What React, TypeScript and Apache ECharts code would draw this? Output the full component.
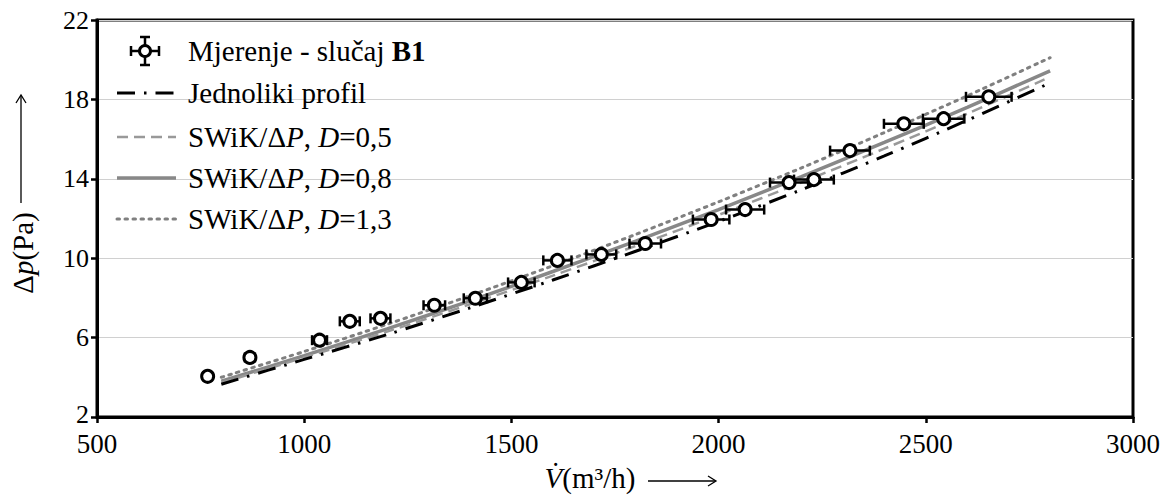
import React, { useEffect, useRef } from "react";
import * as echarts from "echarts";

// Measurements (case B1): flow rate, pressure drop, horizontal error (+/-)
const measFlow = [767, 869, 1037, 1110, 1184, 1314, 1413, 1524, 1611, 1717, 1823, 1982, 2064, 2170, 2230, 2317, 2447, 2543, 2652];
const measDp = [4.05, 5.0, 5.87, 6.82, 6.97, 7.63, 7.98, 8.78, 9.89, 10.19, 10.74, 11.95, 12.45, 13.81, 13.96, 15.42, 16.77, 17.03, 18.13];
const measErr = [10, 12, 18, 24, 24, 26, 28, 32, 34, 36, 38, 44, 46, 46, 48, 48, 48, 50, 55];

// Model curves
const modelFlow = [800, 1000, 1200, 1400, 1600, 1800, 2000, 2200, 2400, 2600, 2800];
const uniformDp = [3.65, 4.9, 6.15, 7.5, 8.9, 10.35, 11.85, 13.45, 15.15, 16.95, 18.83];
const swik05Dp = [3.72, 5.0, 6.3, 7.68, 9.12, 10.62, 12.18, 13.82, 15.52, 17.28, 19.13];
const swik08Dp = [3.8, 5.09, 6.44, 7.85, 9.33, 10.86, 12.45, 14.11, 15.83, 17.6, 19.44];
const swik13Dp = [4.0, 5.3, 6.67, 8.11, 9.62, 11.2, 12.84, 14.55, 16.33, 18.18, 20.1];

// Axis ticks
const xTicks = [500, 1000, 1500, 2000, 2500, 3000];
const yTicks = [2, 6, 10, 14, 18, 22];

const FONT = "'Liberation Serif', 'Times New Roman', serif";
const FS = 29;

export default function App() {
  const ref = useRef<HTMLDivElement>(null);

  useEffect(() => {
    document.body.style.margin = "0";
    const chart = echarts.init(ref.current!, null, { renderer: "svg" });

    const lineSeries = (name: string, ys: number[], color: string, width: number, type: any, cap: any = "butt") => ({
      name,
      type: "line",
      data: modelFlow.map((x, i) => [x, ys[i]]),
      showSymbol: false,
      symbol: "none",
      smooth: 0.3,
      lineStyle: { color, width, type, cap },
      z: 2,
    });

    const legendRows = [51, 93, 137, 178, 219];
    const lx1 = 117;
    const lx2 = 176;
    const tx = 188;
    const richBase = {
      n: { fontFamily: FONT, fontSize: FS, fill: "#000", color: "#000" },
      i: { fontFamily: FONT, fontSize: FS, fontStyle: "italic", fill: "#000", color: "#000" },
      b: { fontFamily: FONT, fontSize: FS, fontWeight: "bold", fill: "#000", color: "#000" },
    };
    const legText = (y: number, text: string) => ({
      type: "text",
      x: tx,
      y,
      z: 100,
      style: { text, fontFamily: FONT, fontSize: FS, fill: "#000", verticalAlign: "middle", rich: richBase },
    });
    const legLine = (y: number, stroke: string, lineWidth: number, lineDash: any, lineCap = "butt") => ({
      type: "line",
      z: 100,
      shape: { x1: lx1, y1: y, x2: lx2, y2: y },
      style: { stroke, lineWidth, lineDash, lineCap },
    });
    const cx = 145;
    const cy = legendRows[0];

    const graphic: any[] = [
      // legend item 1: marker with error bars
      { type: "line", z: 100, shape: { x1: cx - 14, y1: cy, x2: cx + 14, y2: cy }, style: { stroke: "#000", lineWidth: 2.5 } },
      { type: "line", z: 100, shape: { x1: cx - 14, y1: cy - 5, x2: cx - 14, y2: cy + 5 }, style: { stroke: "#000", lineWidth: 2.5 } },
      { type: "line", z: 100, shape: { x1: cx + 14, y1: cy - 5, x2: cx + 14, y2: cy + 5 }, style: { stroke: "#000", lineWidth: 2.5 } },
      { type: "line", z: 100, shape: { x1: cx, y1: cy - 14, x2: cx, y2: cy + 14 }, style: { stroke: "#000", lineWidth: 2.5 } },
      { type: "line", z: 100, shape: { x1: cx - 5, y1: cy - 14, x2: cx + 5, y2: cy - 14 }, style: { stroke: "#000", lineWidth: 2.5 } },
      { type: "line", z: 100, shape: { x1: cx - 5, y1: cy + 14, x2: cx + 5, y2: cy + 14 }, style: { stroke: "#000", lineWidth: 2.5 } },
      { type: "circle", z: 101, shape: { cx, cy, r: 5.5 }, style: { fill: "#fff", stroke: "#000", lineWidth: 3 } },
      legText(legendRows[0], "{n|Mjerenje - slučaj }{b|B1}"),
      legLine(legendRows[1], "#000", 3, [18, 9, 2.5, 9]),
      legText(legendRows[1], "{n|Jednoliki profil}"),
      legLine(legendRows[2], "#999", 2.5, [11, 6]),
      legText(legendRows[2], "{n|SWiK/Δ}{i|P}{n|, }{i|D}{n|=0,5}"),
      legLine(legendRows[3], "#888", 3.5, null),
      legText(legendRows[3], "{n|SWiK/Δ}{i|P}{n|, }{i|D}{n|=0,8}"),
      legLine(legendRows[4], "#808080", 3, [2.5, 5.5], "round"),
      legText(legendRows[4], "{n|SWiK/Δ}{i|P}{n|, }{i|D}{n|=1,3}"),
      // x axis arrow
      { type: "line", z: 100, shape: { x1: 648, y1: 481, x2: 715, y2: 481 }, style: { stroke: "#000", lineWidth: 1.3 } },
      { type: "polyline", z: 100, shape: { points: [[708, 476], [716, 481], [708, 486]] }, style: { stroke: "#000", lineWidth: 1.3, fill: null } },
      // y axis arrow
      { type: "line", z: 100, shape: { x1: 21, y1: 203, x2: 21, y2: 96 }, style: { stroke: "#000", lineWidth: 1.3 } },
      { type: "polyline", z: 100, shape: { points: [[16, 103], [21, 95], [26, 103]] }, style: { stroke: "#000", lineWidth: 1.3, fill: null } },
    ];

    const option: any = {
      animation: false,
      backgroundColor: "#fff",
      textStyle: { fontFamily: FONT },
      grid: {
        left: 97,
        right: 31,
        top: 20,
        bottom: 79,
        show: true,
        borderColor: "#000",
        borderWidth: 3,
        backgroundColor: "transparent",
      },
      xAxis: {
        type: "value",
        min: xTicks[0],
        max: xTicks[xTicks.length - 1],
        interval: 500,
        name: "{i|V\u0307}{n|(m³/h)}",
        nameLocation: "middle",
        nameGap: 46,
        nameTextStyle: {
          padding: [0, 50, 0, 0],
          rich: {
            n: { fontFamily: FONT, fontSize: FS, color: "#000" },
            i: { fontFamily: FONT, fontSize: FS, fontStyle: "italic", color: "#000" },
          },
        },
        axisLine: { show: true, onZero: false, lineStyle: { color: "#000", width: 3 } },
        axisTick: { show: true, length: 6, lineStyle: { color: "#000", width: 2.5 } },
        axisLabel: { fontFamily: FONT, fontSize: 27, lineHeight: 20, color: "#000", margin: 17, formatter: (v: number) => String(v) },
        splitLine: { show: false },
      },
      yAxis: {
        type: "value",
        min: yTicks[0],
        max: yTicks[yTicks.length - 1],
        interval: 4,
        name: "{n|Δ}{i|p}{n|(Pa)}",
        nameLocation: "middle",
        nameGap: 60,
        nameRotate: 90,
        nameTextStyle: {
          padding: [0, 69, 0, 0],
          rich: {
            n: { fontFamily: FONT, fontSize: FS, color: "#000" },
            i: { fontFamily: FONT, fontSize: FS, fontStyle: "italic", color: "#000" },
          },
        },
        axisLine: { show: true, onZero: false, lineStyle: { color: "#000", width: 3 } },
        axisTick: { show: true, length: 6, lineStyle: { color: "#000", width: 2.5 } },
        axisLabel: {
          fontFamily: FONT,
          fontSize: 26,
          lineHeight: 18,
          color: "#000",
          margin: 8,
          formatter: (v: number) => (v === yTicks[0] ? `{low|${v}}` : String(v)),
          rich: { low: { fontFamily: FONT, fontSize: 26, lineHeight: 18, color: "#000", padding: [0, 0, 6, 0] } },
        },
        splitLine: { show: true, lineStyle: { color: "#d0d0d0", width: 1.2 } },
      },
      graphic,
      series: [
        lineSeries("SWiK/ΔP, D=1,3", swik13Dp, "#808080", 3, [2.5, 5.5], "round"),
        lineSeries("SWiK/ΔP, D=0,8", swik08Dp, "#888", 3.5, "solid"),
        lineSeries("SWiK/ΔP, D=0,5", swik05Dp, "#999", 2.5, [11, 6]),
        lineSeries("Jednoliki profil", uniformDp, "#000", 3, [18, 9, 2.5, 9]),
        {
          name: "Mjerenje error",
          type: "custom",
          z: 3,
          data: measFlow.map((x, i) => [x, measDp[i], measErr[i]]),
          renderItem: (params: any, api: any) => {
            const x = api.value(0);
            const y = api.value(1);
            const e = api.value(2);
            const l = api.coord([x - e, y]);
            const r = api.coord([x + e, y]);
            const s = { stroke: "#000", lineWidth: 2.5 };
            return {
              type: "group",
              children: [
                { type: "line", shape: { x1: l[0], y1: l[1], x2: r[0], y2: r[1] }, style: s },
                { type: "line", shape: { x1: l[0], y1: l[1] - 5, x2: l[0], y2: l[1] + 5 }, style: s },
                { type: "line", shape: { x1: r[0], y1: r[1] - 5, x2: r[0], y2: r[1] + 5 }, style: s },
              ],
            };
          },
        },
        {
          name: "Mjerenje - slučaj B1",
          type: "scatter",
          z: 4,
          symbol: "circle",
          symbolSize: 12,
          data: measFlow.map((x, i) => [x, measDp[i]]),
          itemStyle: { color: "#fff", borderColor: "#000", borderWidth: 3, opacity: 1 },
        },
      ],
    };

    chart.setOption(option);
    return () => chart.dispose();
  }, []);

  return <div ref={ref} style={{ width: 1164, height: 497 }} />;
}
